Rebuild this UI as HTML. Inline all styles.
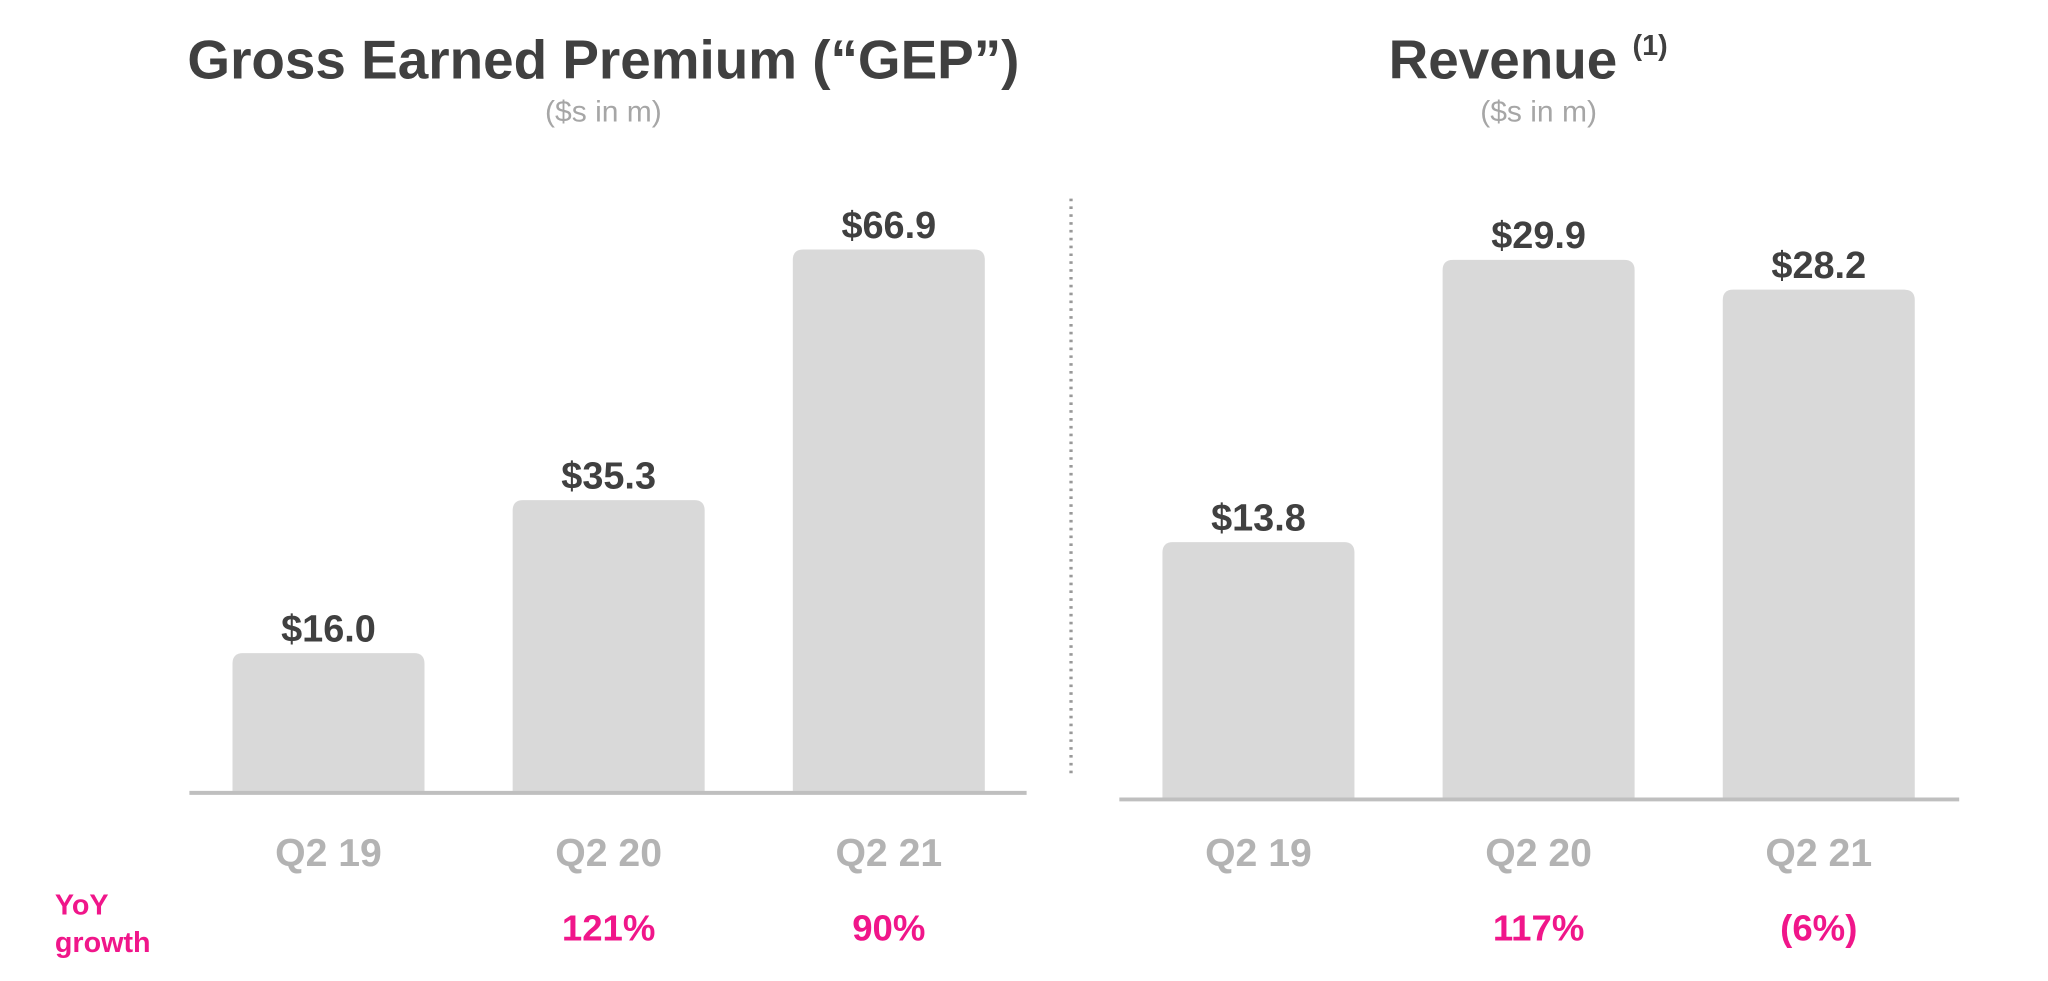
<!DOCTYPE html>
<html><head><meta charset="utf-8"><style>
html,body{margin:0;padding:0;background:#fff;}
svg{display:block;font-family:"Liberation Sans",sans-serif;}
</style></head><body>
<svg id="c" width="2048" height="981" viewBox="0 0 1568 751">
<text x="462" y="60" text-anchor="middle" font-size="42" font-weight="bold" fill="#404040">Gross Earned Premium (“GEP”)</text>
<text x="462" y="93" text-anchor="middle" font-size="23" fill="#a6a6a6">($s in m)</text>
<text x="1170" y="60" text-anchor="middle" font-size="42" font-weight="bold" fill="#404040">Revenue <tspan font-size="22" dy="-18">(1)</tspan></text>
<text x="1178" y="93" text-anchor="middle" font-size="23" fill="#a6a6a6">($s in m)</text>
<line x1="820" y1="152" x2="820" y2="596" stroke="#999" stroke-width="2.5" stroke-dasharray="2,4"/>
<text x="42" y="700" font-size="22" font-weight="bold" fill="#f0168a">YoY</text>
<text x="42" y="729" font-size="22" font-weight="bold" fill="#f0168a">growth</text>
<g id="g"></g>
</svg>
<script>
const categories = ["Q2 19","Q2 20","Q2 21"];
const gepValues = [16.0, 35.3, 66.9];
const gepLabels = ["$16.0","$35.3","$66.9"];
const gepGrowth = ["","121%","90%"];
const revValues = [13.8, 29.9, 28.2];
const revLabels = ["$13.8","$29.9","$28.2"];
const revGrowth = ["","117%","(6%)"];
const NS="http://www.w3.org/2000/svg";
const g=document.getElementById('g');
function mk(tag,attrs,txt){const e=document.createElementNS(NS,tag);for(const k in attrs)e.setAttribute(k,attrs[k]);if(txt!==undefined)e.textContent=txt;g.appendChild(e);return e;}
function chart(prefix,vals,labels,growth,x0,x1,firstX,base,scale,v0){
  const bw=147, step=214.5;
  vals.forEach((v,i)=>{
    const x=firstX+i*step, h=(v-v0)*scale, y=base-h;
    const b=mk('path',{d:`M${x},${base} V${y+8} Q${x},${y} ${x+8},${y} H${x+bw-8} Q${x+bw},${y} ${x+bw},${y+8} V${base} Z`,fill:'#d9d9d9'});
    
    
    const t=mk('text',{x:x+bw/2,y:y-9,'text-anchor':'middle','font-size':29,'font-weight':'bold',fill:'#404040'},labels[i]);
    
    
    const c=mk('text',{x:x+bw/2,y:663,'text-anchor':'middle','font-size':30,'font-weight':'bold',fill:'#b3b3b3'},categories[i]);
    
    
    if(growth[i]){
      const gr=mk('text',{x:x+bw/2,y:720,'text-anchor':'middle','font-size':28,'font-weight':'bold',fill:'#f0168a'},growth[i]);
      
      
    }
  });
  const ax=mk('line',{x1:x0,y1:base,x2:x1,y2:base,stroke:'#bfbfbf','stroke-width':3});
  
  
}
chart('gep',gepValues,gepLabels,gepGrowth,145,786,178,607,6.07,-1.63);
chart('revenue',revValues,revLabels,revGrowth,857,1500,890,612,13.42,-0.88);
</script>
</body></html>
